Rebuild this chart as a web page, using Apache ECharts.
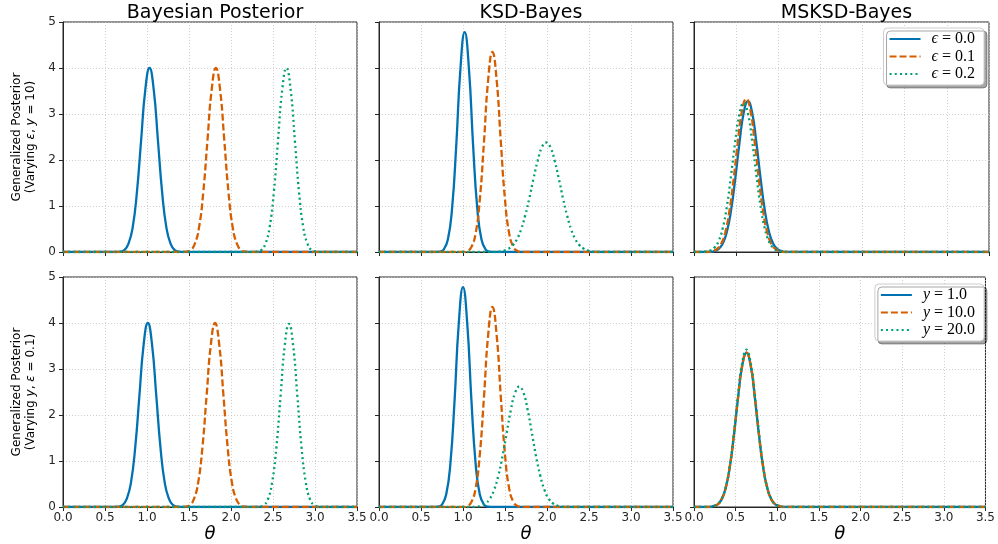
<!DOCTYPE html>
<html><head><meta charset="utf-8">
<script src="https://cdn.jsdelivr.net/npm/echarts@6/dist/echarts.min.js"></script>
<style>html,body{margin:0;padding:0;background:#fff}#c{width:998px;height:544px}</style>
</head><body><div id="c"></div>
<script>
// ---- data (theta, density) ----
const bayesEps00 = [[0,0],[0.63,0],[0.68,0.01],[0.73,0.04],[0.78,0.18],[0.83,0.54],[0.88,1.30],[0.93,2.43],[0.98,3.53],[1.03,4.00],[1.08,3.53],[1.13,2.43],[1.18,1.30],[1.23,0.54],[1.28,0.18],[1.33,0.04],[1.38,0.01],[1.43,0],[3.5,0]];
const bayesEps01 = [[0,0],[1.42,0],[1.47,0.01],[1.52,0.04],[1.57,0.18],[1.62,0.54],[1.67,1.30],[1.72,2.43],[1.77,3.53],[1.82,4.00],[1.87,3.53],[1.92,2.43],[1.97,1.30],[2.02,0.54],[2.07,0.18],[2.12,0.04],[2.17,0.01],[2.22,0],[3.5,0]];
const bayesEps02 = [[0,0],[2.26,0],[2.31,0.01],[2.36,0.04],[2.41,0.18],[2.46,0.54],[2.51,1.30],[2.56,2.43],[2.61,3.53],[2.66,4.00],[2.71,3.53],[2.76,2.43],[2.81,1.30],[2.86,0.54],[2.91,0.18],[2.96,0.04],[3.01,0.01],[3.06,0],[3.5,0]];

const ksdEps00 = [[0,0],[0.67,0],[0.72,0.01],[0.77,0.05],[0.82,0.27],[0.87,0.95],[0.92,2.33],[0.97,4.00],[1.02,4.78],[1.07,4.00],[1.12,2.33],[1.17,0.95],[1.22,0.27],[1.27,0.05],[1.32,0.01],[1.37,0],[3.5,0]];
const ksdEps01 = [[0,0],[1.00,0],[1.05,0.02],[1.10,0.11],[1.15,0.40],[1.20,1.14],[1.25,2.40],[1.30,3.75],[1.35,4.35],[1.40,3.75],[1.45,2.40],[1.50,1.14],[1.55,0.40],[1.60,0.11],[1.65,0.02],[1.70,0],[3.5,0]];
const ksdEps02 = [[0,0],[1.39,0],[1.44,0.01],[1.49,0.03],[1.54,0.07],[1.59,0.14],[1.64,0.27],[1.69,0.48],[1.74,0.79],[1.79,1.17],[1.84,1.60],[1.89,1.99],[1.94,2.28],[1.99,2.38],[2.04,2.28],[2.09,1.99],[2.14,1.60],[2.19,1.17],[2.24,0.79],[2.29,0.48],[2.34,0.27],[2.39,0.14],[2.44,0.07],[2.49,0.03],[2.54,0.01],[2.59,0],[3.5,0]];

const msksdEps00 = [[0,0],[0.19,0],[0.24,0.02],[0.29,0.06],[0.34,0.18],[0.39,0.44],[0.44,0.91],[0.49,1.60],[0.54,2.38],[0.59,3.03],[0.64,3.28],[0.69,3.03],[0.74,2.38],[0.79,1.60],[0.84,0.91],[0.89,0.44],[0.94,0.18],[0.99,0.06],[1.04,0.02],[1.09,0],[3.5,0]];
const msksdEps01 = [[0,0],[0.17,0],[0.22,0.02],[0.27,0.06],[0.32,0.17],[0.37,0.42],[0.42,0.89],[0.47,1.58],[0.52,2.39],[0.57,3.07],[0.62,3.33],[0.67,3.07],[0.72,2.39],[0.77,1.58],[0.82,0.89],[0.87,0.42],[0.92,0.17],[0.97,0.06],[1.02,0.02],[1.07,0],[3.5,0]];
const msksdEps02 = [[0,0],[0.09,0],[0.14,0.01],[0.19,0.03],[0.24,0.09],[0.29,0.23],[0.34,0.51],[0.39,0.99],[0.44,1.67],[0.49,2.41],[0.54,3.01],[0.59,3.24],[0.64,3.01],[0.69,2.41],[0.74,1.67],[0.79,0.99],[0.84,0.51],[0.89,0.23],[0.94,0.09],[0.99,0.03],[1.04,0.01],[1.09,0],[3.5,0]];

const bayesY1 = [[0,0],[0.61,0],[0.66,0.01],[0.71,0.04],[0.76,0.18],[0.81,0.54],[0.86,1.30],[0.91,2.43],[0.96,3.53],[1.01,4.00],[1.06,3.53],[1.11,2.43],[1.16,1.30],[1.21,0.54],[1.26,0.18],[1.31,0.04],[1.36,0.01],[1.41,0],[3.5,0]];
const bayesY10 = [[0,0],[1.41,0],[1.46,0.01],[1.51,0.04],[1.56,0.18],[1.61,0.54],[1.66,1.30],[1.71,2.43],[1.76,3.53],[1.81,4.00],[1.86,3.53],[1.91,2.43],[1.96,1.30],[2.01,0.54],[2.06,0.18],[2.11,0.04],[2.16,0.01],[2.21,0],[3.5,0]];
const bayesY20 = [[0,0],[2.29,0],[2.34,0.01],[2.39,0.04],[2.44,0.17],[2.49,0.54],[2.54,1.29],[2.59,2.41],[2.64,3.51],[2.69,3.98],[2.74,3.51],[2.79,2.41],[2.84,1.29],[2.89,0.54],[2.94,0.17],[2.99,0.04],[3.04,0.01],[3.09,0],[3.5,0]];

const ksdY1 = [[0,0],[0.65,0],[0.70,0.01],[0.75,0.05],[0.80,0.27],[0.85,0.95],[0.90,2.33],[0.95,4.00],[1.00,4.78],[1.05,4.00],[1.10,2.33],[1.15,0.95],[1.20,0.27],[1.25,0.05],[1.30,0.01],[1.35,0],[3.5,0]];
const ksdY10 = [[0,0],[1.00,0],[1.05,0.02],[1.10,0.11],[1.15,0.40],[1.20,1.14],[1.25,2.40],[1.30,3.75],[1.35,4.35],[1.40,3.75],[1.45,2.40],[1.50,1.14],[1.55,0.40],[1.60,0.11],[1.65,0.02],[1.70,0],[3.5,0]];
const ksdY20 = [[0,0],[1.12,0],[1.17,0.01],[1.22,0.03],[1.27,0.08],[1.32,0.18],[1.37,0.37],[1.42,0.68],[1.47,1.10],[1.52,1.61],[1.57,2.11],[1.62,2.48],[1.67,2.62],[1.72,2.48],[1.77,2.11],[1.82,1.61],[1.87,1.10],[1.92,0.68],[1.97,0.37],[2.02,0.18],[2.07,0.08],[2.12,0.03],[2.17,0.01],[2.22,0],[3.5,0]];

const msksdY1 = [[0,0],[0.18,0],[0.23,0.02],[0.28,0.05],[0.33,0.16],[0.38,0.41],[0.43,0.87],[0.48,1.57],[0.53,2.39],[0.58,3.08],[0.63,3.35],[0.68,3.08],[0.73,2.39],[0.78,1.57],[0.83,0.87],[0.88,0.41],[0.93,0.16],[0.98,0.05],[1.03,0.02],[1.08,0],[3.5,0]];
const msksdY10 = [[0,0],[0.18,0],[0.23,0.02],[0.28,0.05],[0.33,0.16],[0.38,0.41],[0.43,0.88],[0.48,1.58],[0.53,2.40],[0.58,3.09],[0.63,3.36],[0.68,3.09],[0.73,2.40],[0.78,1.58],[0.83,0.88],[0.88,0.41],[0.93,0.16],[0.98,0.05],[1.03,0.02],[1.08,0],[3.5,0]];
const msksdY20 = [[0,0],[0.18,0],[0.23,0.02],[0.28,0.06],[0.33,0.17],[0.38,0.42],[0.43,0.89],[0.48,1.61],[0.53,2.44],[0.58,3.14],[0.63,3.42],[0.68,3.14],[0.73,2.44],[0.78,1.61],[0.83,0.89],[0.88,0.42],[0.93,0.17],[0.98,0.06],[1.03,0.02],[1.08,0],[3.5,0]];

const titles = ['Bayesian Posterior', 'KSD-Bayes', 'MSKSD-Bayes'];
const epsNames = ['ϵ = 0.0', 'ϵ = 0.1', 'ϵ = 0.2'];
const yNames = ['y = 1.0', 'y = 10.0', 'y = 20.0'];
const xMin = 0, xMax = 3.5, xStep = 0.5;
const yMin = 0, yMax = 5, yStep = 1;

// ---- styling / layout ----
const colors = ['#0072B2', '#D55E00', '#009E73'];
const dashes = ['solid', [7, 3], [2, 3.2]];
const ink = '#262626';
const panelLeft = [63, 379, 694];
const panelWidth = [294, 294, 295];
const panelTop = [22, 277];
const panelHeight = 230;

const panelData = [
  [bayesEps00, bayesEps01, bayesEps02],
  [ksdEps00, ksdEps01, ksdEps02],
  [msksdEps00, msksdEps01, msksdEps02],
  [bayesY1, bayesY10, bayesY20],
  [ksdY1, ksdY10, ksdY20],
  [msksdY1, msksdY10, msksdY20]
];

const grids = [], xAxes = [], yAxes = [], series = [];
for (let r = 0; r < 2; r++) {
  for (let c = 0; c < 3; c++) {
    const idx = r * 3 + c;
    grids.push({ left: panelLeft[c], top: panelTop[r], width: panelWidth[c], height: panelHeight,
      show: true, borderColor: ink, borderWidth: 1, backgroundColor: 'transparent' });
    xAxes.push({
      type: 'value', gridIndex: idx, min: xMin, max: xMax, interval: xStep,
      axisLine: { show: true, onZero: false, lineStyle: { color: ink, width: 1 } },
      axisTick: { show: true, length: 4, lineStyle: { color: ink } },
      axisLabel: { show: r === 1, margin: 5, fontSize: 12, color: ink, fontFamily: 'DejaVu Sans',
        formatter: v => v.toFixed(1) },
      splitLine: { show: true, lineStyle: { type: [1, 2], color: '#c4c4c4', width: 0.8 } },
      name: r === 1 ? 'θ' : '', nameLocation: 'middle', nameGap: 14,
      nameTextStyle: { fontSize: 18, fontStyle: 'italic', fontFamily: 'DejaVu Sans', color: '#000', verticalAlign: 'top' }
    });
    yAxes.push({
      type: 'value', gridIndex: idx, min: yMin, max: yMax, interval: yStep,
      axisLine: { show: true, onZero: false, lineStyle: { color: ink, width: 1 } },
      axisTick: { show: true, length: 4, lineStyle: { color: ink } },
      axisLabel: { show: c === 0, margin: 7, fontSize: 12, color: ink, fontFamily: 'DejaVu Sans' },
      splitLine: { show: true, lineStyle: { type: [1, 2], color: '#c4c4c4', width: 0.8 } }
    });
    const names = r === 0 ? epsNames : yNames;
    for (let k = 0; k < 3; k++) {
      series.push({
        type: 'line', name: names[k], xAxisIndex: idx, yAxisIndex: idx,
        data: panelData[idx][k], showSymbol: false, symbol: 'none', smooth: 0.5,
        clip: true, z: 2 + k,
        lineStyle: { color: colors[k], width: 2.3, type: dashes[k], cap: 'butt' },
        itemStyle: { color: colors[k] }
      });
    }
  }
}

const legendText = {
  fontFamily: 'Liberation Serif', fontSize: 16, color: '#000', lineHeight: 13,
  rich: {
    s: { width: 6, lineHeight: 13 },
    i: { fontFamily: 'Liberation Serif', fontStyle: 'italic', fontSize: 16, color: '#000', lineHeight: 13 },
    n: { fontFamily: 'Liberation Serif', fontSize: 16, color: '#000', lineHeight: 13 }
  }
};
const legendFmt = n => { const p = n.split(' = '); return '{s|}{i|' + p[0] + '}{n| = ' + p[1] + '}'; };
const legendBase = {
  orient: 'vertical', right: 14, itemWidth: 31, itemHeight: 13, itemGap: 1.5,
  padding: [3, 9, 3, 5], backgroundColor: '#fff', borderColor: '#cccccc', borderWidth: 1,
  borderRadius: 4, shadowColor: 'rgba(0,0,0,0.35)', shadowBlur: 0, shadowOffsetX: 3, shadowOffsetY: 3,
  textStyle: legendText, formatter: legendFmt, selectedMode: false,
  itemStyle: { color: 'rgba(0,0,0,0)', borderColor: 'rgba(0,0,0,0)', borderWidth: 0, opacity: 0 }
};

const ylab = (line2parts) => ({
  type: 'text', rotation: Math.PI / 2,
  style: {
    text: '{n|Generalized Posterior}\n' + line2parts,
    align: 'center', verticalAlign: 'middle', lineHeight: 14,
    rich: {
      n: { fontFamily: 'DejaVu Sans', fontSize: 12, fill: '#000', color: '#000', lineHeight: 14 },
      i: { fontFamily: 'DejaVu Sans', fontStyle: 'italic', fontSize: 12, fill: '#000', color: '#000', lineHeight: 14 }
    }
  }
});

const chart = echarts.init(document.getElementById('c'), null, { renderer: 'canvas' });
const g1 = ylab('{n|(Varying }{i|ε}{n|, }{i|y}{n| = 10)}'); g1.x = 24; g1.y = 137;
const g2 = ylab('{n|(Varying }{i|y}{n|, }{i|ε}{n| = 0.1)}'); g2.x = 24; g2.y = 392;
chart.setOption({
  animation: false,
  backgroundColor: '#fff',
  title: titles.map((t, c) => ({
    text: t, left: panelLeft[c] + panelWidth[c] / 2, top: -1, textAlign: 'center',
    textStyle: { fontFamily: 'DejaVu Sans', fontSize: 19, fontWeight: 'normal', color: '#000' }
  })),
  legend: [
    Object.assign({}, legendBase, { top: 28, data: epsNames }),
    Object.assign({}, legendBase, { top: 284, data: yNames })
  ],
  grid: grids, xAxis: xAxes, yAxis: yAxes, series: series,
  graphic: [g1, g2]
});
</script></body></html>
